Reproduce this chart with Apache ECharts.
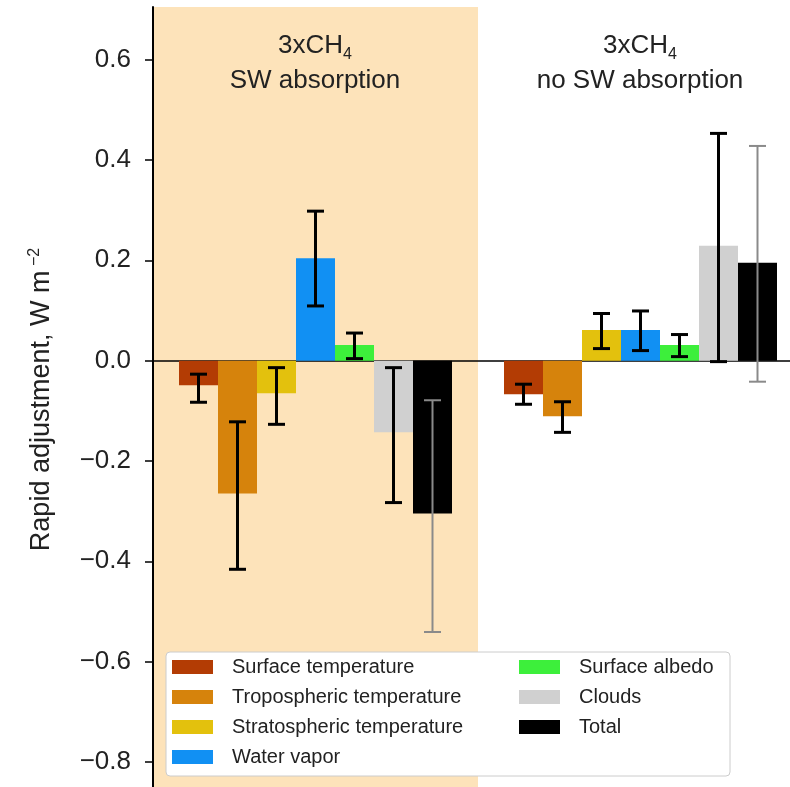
<!DOCTYPE html>
<html>
<head>
<meta charset="utf-8">
<title>Rapid adjustments 3xCH4</title>
<script src="https://cdn.jsdelivr.net/npm/echarts@6.0.0/dist/echarts.min.js"></script>
<style>
  html, body { margin: 0; padding: 0; background: #fff; }
  #chart { width: 790px; height: 787px; }
</style>
</head>
<body>
<div id="chart"></div>
<script>
// two experiments
var categories = ["SW absorption", "no SW absorption"];
var seriesNames = [
  "Surface temperature",
  "Tropospheric temperature",
  "Stratospheric temperature",
  "Water vapor",
  "Surface albedo",
  "Clouds",
  "Total"
];
var seriesColors = ["#b33c04", "#d6830c", "#e3c10d", "#1190f3", "#3def3b", "#d0d0d0", "#000000"];
var errorColors = ["#000", "#000", "#000", "#000", "#000", "#000", "#8a8a8a"];

// bar values, one array per term: [SW absorption, no SW absorption]
var surfaceTemp = [-0.049, -0.067];
var tropTemp = [-0.265, -0.111];
var stratTemp = [-0.065, 0.061];
var waterVapor = [0.204, 0.061];
var surfaceAlbedo = [0.031, 0.031];
var clouds = [-0.143, 0.229];
var total = [-0.305, 0.195];

// error bar ranges [low, high]
var surfaceTempErr = [[-0.083, -0.027], [-0.087, -0.047]];
var tropTempErr = [[-0.416, -0.122], [-0.143, -0.082]];
var stratTempErr = [[-0.127, -0.014], [0.024, 0.094]];
var waterVaporErr = [[0.109, 0.298], [0.020, 0.099]];
var surfaceAlbedoErr = [[0.004, 0.055], [0.008, 0.052]];
var cloudsErr = [[-0.283, -0.014], [-0.002, 0.453]];
var totalErr = [[-0.541, -0.079], [-0.042, 0.428]];

var yTicks = [-0.8, -0.6, -0.4, -0.2, 0.0, 0.2, 0.4, 0.6];

var barValues = [surfaceTemp, tropTemp, stratTemp, waterVapor, surfaceAlbedo, clouds, total];
var errValues = [surfaceTempErr, tropTempErr, stratTempErr, waterVaporErr, surfaceAlbedoErr, cloudsErr, totalErr];

var font = "'Liberation Sans', Arial, sans-serif";
var gapRatio = 0.16; // barCategoryGap

var series = [];
barValues.forEach(function(vals, i) {
  series.push({
    name: seriesNames[i],
    type: "bar",
    barGap: "0%",
    barCategoryGap: gapRatio * 100 + "%",
    itemStyle: { color: seriesColors[i] },
    data: vals
  });
});

// error bars as one custom series: [category, low, high, seriesIndex]
var errData = [];
errValues.forEach(function(pairs, i) {
  pairs.forEach(function(p, c) {
    errData.push([c, p[0], p[1], i]);
  });
});

series.push({
  type: "custom",
  z: 5,
  silent: true,
  encode: { x: 0, y: [1, 2] },
  data: errData,
  renderItem: function(params, api) {
    var c = api.value(0);
    var idx = api.value(3);
    var lo = api.coord([c, api.value(1)]);
    var hi = api.coord([c, api.value(2)]);
    var band = api.size([1, 0])[0];
    var barW = (band * (1 - gapRatio)) / seriesNames.length;
    var x = lo[0] + (idx - (seriesNames.length - 1) / 2) * barW;
    var isTotal = idx === seriesNames.length - 1;
    var half = 8.5;
    var style = {
      stroke: errorColors[idx],
      lineWidth: isTotal ? 2 : 3,
      fill: null
    };
    return {
      type: "group",
      children: [
        { type: "line", shape: { x1: x, y1: lo[1], x2: x, y2: hi[1] }, style: style },
        { type: "line", shape: { x1: x - half, y1: lo[1], x2: x + half, y2: lo[1] }, style: style },
        { type: "line", shape: { x1: x - half, y1: hi[1], x2: x + half, y2: hi[1] }, style: style }
      ]
    };
  }
});

var titleRich = {
  a: { fontSize: 26, fontWeight: "normal", lineHeight: 35, color: "#222", fontFamily: font },
  s: { fontSize: 16, fontWeight: "normal", lineHeight: 18, verticalAlign: "bottom", color: "#222", fontFamily: font }
};

var option = {
  animation: false,
  backgroundColor: "#ffffff",
  textStyle: { fontFamily: font },
  title: [
    {
      text: "{a|3xCH}{s|4}\n{a|SW absorption}",
      left: 315,
      top: 28,
      padding: 0,
      textAlign: "center",
      textStyle: { fontWeight: "normal", rich: titleRich }
    },
    {
      text: "{a|3xCH}{s|4}\n{a|no SW absorption}",
      left: 640,
      top: 28,
      padding: 0,
      textAlign: "center",
      textStyle: { fontWeight: "normal", rich: titleRich }
    }
  ],
  grid: {
    left: 153,
    right: -13,
    top: 7,
    bottom: -5,
    outerBoundsMode: "none",
    containLabel: false
  },
  legend: {
    orient: "vertical",
    left: 166,
    top: 652,
    height: 112,
    padding: [5, 6, 9, 6],
    itemGap: 10,
    itemWidth: 41,
    itemHeight: 14,
    icon: "rect",
    backgroundColor: "#ffffff",
    borderColor: "#cccccc",
    borderWidth: 1,
    borderRadius: 4,
    textStyle: {
      fontSize: 20,
      lineHeight: 20,
      color: "#222",
      fontFamily: font,
      padding: [0, 0, 0, 14],
      width: 277
    },
    data: seriesNames.map(function(n, i) {
      if (i < 4) return { name: n };
      return { name: n, textStyle: { width: 145 } };
    })
  },
  xAxis: {
    type: "category",
    data: categories,
    axisLine: { onZero: true, lineStyle: { color: "#000", width: 1.5 } },
    axisTick: { show: false },
    axisLabel: { show: false },
    splitLine: { show: false },
    splitArea: {
      show: true,
      areaStyle: { color: ["#fde3ba", "rgba(255,255,255,0)"] }
    }
  },
  yAxis: {
    type: "value",
    min: -0.86,
    max: 0.705,
    name: "{n|Rapid adjustment, W m}{p| \u22122}",
    nameLocation: "middle",
    nameGap: 96,
    nameRotate: 90,
    nameTextStyle: {
      rich: {
        n: { fontSize: 27, lineHeight: 30, color: "#222", fontFamily: font },
        p: { fontSize: 16, lineHeight: 16, verticalAlign: "top", color: "#222", fontFamily: font }
      }
    },
    axisLine: { show: true, lineStyle: { color: "#000", width: 2 } },
    axisTick: {
      show: true,
      length: 8,
      customValues: yTicks,
      lineStyle: { color: "#000", width: 1.5 }
    },
    axisLabel: {
      customValues: yTicks,
      margin: 22,
      fontSize: 26,
      color: "#222",
      fontFamily: font,
      formatter: function(v) {
        return v.toFixed(1).replace("-", "\u2212");
      }
    },
    splitLine: { show: false }
  },
  series: series
};

var chart = echarts.init(document.getElementById("chart"));
chart.setOption(option);
</script>
</body>
</html>
